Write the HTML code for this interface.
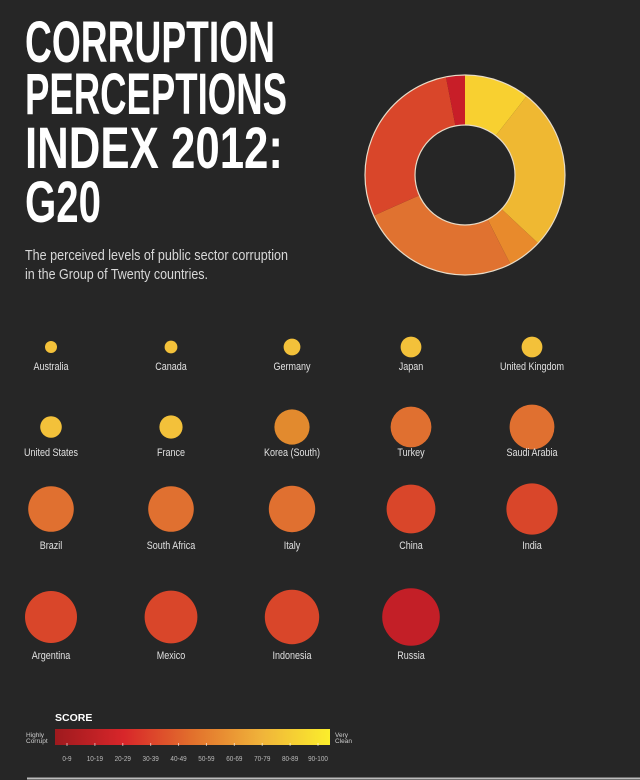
<!DOCTYPE html>
<html><head><meta charset="utf-8"><style>
html,body{margin:0;padding:0;background:#262626;}
svg{display:block;}
</style></head><body>
<svg id="chart" width="640" height="780" viewBox="0 0 640 780" xmlns="http://www.w3.org/2000/svg">
<rect width="640" height="780" fill="#262626"/>
<g font-family="'Liberation Sans Narrow','Liberation Sans',sans-serif" font-weight="bold" font-size="58" fill="#ffffff">
<text x="25" y="62" textLength="250" lengthAdjust="spacingAndGlyphs">CORRUPTION</text>
<text x="25" y="114" textLength="262" lengthAdjust="spacingAndGlyphs">PERCEPTIONS</text>
<text x="25" y="168" textLength="258" lengthAdjust="spacingAndGlyphs">INDEX 2012:</text>
<text x="25" y="222" textLength="76" lengthAdjust="spacingAndGlyphs">G20</text>
</g>
<g font-family="'Liberation Sans Narrow','Liberation Sans',sans-serif" font-size="14.5" fill="#d8d8d8">
<text x="25" y="260" textLength="263" lengthAdjust="spacingAndGlyphs">The perceived levels of public sector corruption</text>
<text x="25" y="279" textLength="183" lengthAdjust="spacingAndGlyphs">in the Group of Twenty countries.</text>
</g>
<g id="donut"></g>
<g id="bubbles"></g>
<g id="legend">
<defs><linearGradient id="grad" x1="0" x2="1" y1="0" y2="0">
<stop offset="0" stop-color="#9e1a1e"/><stop offset="0.25" stop-color="#d8262a"/><stop offset="0.5" stop-color="#e2702c"/><stop offset="0.75" stop-color="#f0b33a"/><stop offset="1" stop-color="#fbee2c"/></linearGradient></defs>
<text x="55" y="721" font-family="'Liberation Sans Narrow','Liberation Sans',sans-serif" font-weight="bold" font-size="10.5" fill="#fff">SCORE</text>
<rect x="55" y="729" width="275" height="16" fill="url(#grad)"/>
<text x="26" y="737" font-family="'Liberation Sans Narrow','Liberation Sans',sans-serif" font-size="6.5" fill="#ccc"><tspan x="26">Highly</tspan><tspan x="26" dy="6">Corrupt</tspan></text>
<text x="335" y="737" font-family="'Liberation Sans Narrow','Liberation Sans',sans-serif" font-size="6.5" fill="#ccc"><tspan x="335">Very</tspan><tspan x="335" dy="6">Clean</tspan></text>
</g>
<line x1="27" y1="778.5" x2="640" y2="778.5" stroke="#bbb" stroke-width="2"/>
</svg>
<script>
// Donut data (segment shares, clockwise from top)
const donutShares = [38, 95, 20, 93, 103, 11];
const donutColors = ['#f8d030', '#efb832', '#e88a2c', '#e07230', '#d9462a', '#c81e28'];
// Country data
const countries = ['Australia','Canada','Germany','Japan','United Kingdom','United States','France','Korea (South)','Turkey','Saudi Arabia','Brazil','South Africa','Italy','China','India','Argentina','Mexico','Indonesia','Russia'];
const scores = [85,84,79,74,74,73,71,56,49,44,43,43,42,39,36,35,34,32,28];
// Legend ticks
const tickLabels = ['0-9','10-19','20-29','30-39','40-49','50-59','60-69','70-79','80-89','90-100'];

const NS = 'http://www.w3.org/2000/svg';
function mk(tag, attrs, parent){const e=document.createElementNS(NS,tag);for(const k in attrs)e.setAttribute(k,attrs[k]);parent.appendChild(e);return e;}

// donut
const cx=465, cy=175, R=100, r=50;
const dg=document.getElementById('donut');
const total=donutShares.reduce((a,b)=>a+b,0);
let a0=0;
donutShares.forEach((v,i)=>{
  const a1=a0+v/total*Math.PI*2;
  const p=(a,rr)=>[cx+rr*Math.sin(a), cy-rr*Math.cos(a)];
  const [x1,y1]=p(a0,R),[x2,y2]=p(a1,R),[x3,y3]=p(a1,r),[x4,y4]=p(a0,r);
  const lg=(a1-a0)>Math.PI?1:0;
  const path=mk('path',{d:`M${x1},${y1}A${R},${R} 0 ${lg} 1 ${x2},${y2}L${x3},${y3}A${r},${r} 0 ${lg} 0 ${x4},${y4}Z`,fill:donutColors[i]},dg);
  
  
  a0=a1;
});
const ro=mk('circle',{cx:cx,cy:cy,r:R,fill:'none',stroke:'#e8dcc8','stroke-width':1.2},dg);


const ri=mk('circle',{cx:cx,cy:cy,r:r,fill:'#262626',stroke:'#e8dcc8','stroke-width':1.2},dg);



// bubbles
const colX=[51,171,292,411,532];
const rowY=[347,427,509,617];
const labY=[370,456,549,659];
function colorFor(s){if(s>=70)return '#f3c13a';if(s>=50)return '#e28a2e';if(s>=40)return '#e07030';if(s>=30)return '#d9462a';return '#c31f27';}
const bg=document.getElementById('bubbles');
countries.forEach((name,i)=>{
  const c=i%5, rw=Math.floor(i/5);
  const g=mk('g',{},bg);
  
  
  const circ=mk('circle',{cx:colX[c],cy:rowY[rw],r:0.4*(100-scores[i]),fill:colorFor(scores[i])},g);
  
  
  const t=mk('text',{x:0,y:0,transform:`translate(${colX[c]},${labY[rw]}) scale(0.82,1)`,'text-anchor':'middle','font-family':"'Liberation Sans Narrow','Liberation Sans',sans-serif",'font-size':'11',fill:'#e0e0e0'},g);
  t.textContent=name;
  
  
});

// legend ticks
const lg=document.getElementById('legend');
tickLabels.forEach((lab,i)=>{
  const x=67+i*(251/(tickLabels.length-1));
  const tk=mk('line',{x1:x,y1:743,x2:x,y2:746,stroke:'#ffffff','stroke-opacity':0.6},lg);
  
  
  const t=mk('text',{x:0,y:0,transform:`translate(${x},761) scale(0.85,1)`,'text-anchor':'middle','font-family':"'Liberation Sans Narrow','Liberation Sans',sans-serif",'font-size':'7.5',fill:'#bbbbbb'},lg);
  t.textContent=lab;
  
  
});
</script>
</body></html>
